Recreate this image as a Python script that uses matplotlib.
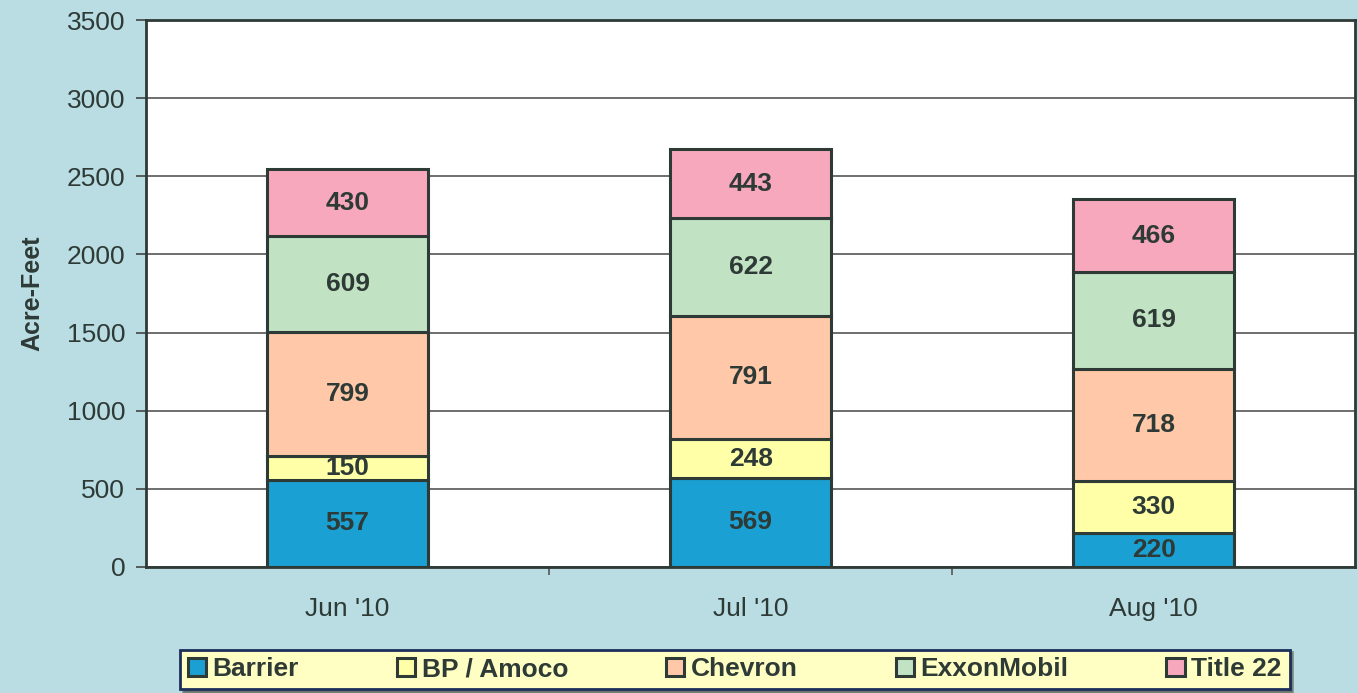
import matplotlib.pyplot as plt
import numpy as np

# data
months = ["Jun '10", "Jul '10", "Aug '10"]
series = ["Barrier", "BP / Amoco", "Chevron", "ExxonMobil", "Title 22"]
barrier = [557, 569, 220]
bp_amoco = [150, 248, 330]
chevron = [799, 791, 718]
exxon = [609, 622, 619]
title22 = [430, 443, 466]
colors = ["#1aa0d2", "#ffffa8", "#ffc8a8", "#c2e2c4", "#f8a8bc"]

plt.rcParams['font.family'] = ['Liberation Sans', 'DejaVu Sans']

fig = plt.figure(figsize=(13.58, 6.93), dpi=100)
fig.patch.set_facecolor("#b9dde3")
ax = fig.add_axes([0.1075, 0.182, 0.8905, 0.789])
ax.set_facecolor("white")

x = np.arange(len(months))
bottom = np.zeros(len(months))
handles = []
for name, vals, col in zip(series, [barrier, bp_amoco, chevron, exxon, title22], colors):
    bars = ax.bar(x, vals, 0.4, bottom=bottom, color=col, edgecolor="#2e3a36",
                  linewidth=2.2, label=name, zorder=3)
    handles.append(bars)
    for xi, b, v in zip(x, bottom, vals):
        ax.text(xi, b + v / 2, str(v), ha="center", va="center", fontsize=19,
                fontweight="bold", color="#2e3a36", zorder=4)
    bottom += np.array(vals)

ax.set_xlim(-0.5, 2.5)
ax.set_ylim(0, 3500)
ax.set_yticks(range(0, 3501, 500))
ax.yaxis.grid(True, color="#555555", linewidth=1.2, zorder=0)
ax.set_xticks(x)
ax.set_xticklabels(months)
ax.set_xticks([0.5, 1.5], minor=True)
ax.tick_params(axis="x", which="major", length=0, pad=22, labelsize=19, labelcolor="#2e3a36")
ax.tick_params(axis="x", which="minor", length=6, width=1.2, color="#555555")
ax.tick_params(axis="y", length=7, width=1.2, color="#444444", labelsize=19,
               labelcolor="#2e3a36", pad=8)
for s in ax.spines.values():
    s.set_color("#2e3a36")
    s.set_linewidth(2)
ax.set_ylabel("Acre-Feet", fontsize=18, fontweight="bold", color="#2e3a36", labelpad=16)

leg = fig.legend(handles, series, loc="center", bbox_to_anchor=(0.541, 0.034), ncol=5,
                 frameon=True, fancybox=False, shadow=True, handlelength=0.7,
                 handleheight=0.7, handletextpad=0.25, columnspacing=3.7,
                 borderpad=0.3, prop={"size": 19, "weight": "bold"})
leg.get_frame().set_facecolor("#ffffc4")
leg.get_frame().set_edgecolor("#1c2f5a")
leg.get_frame().set_linewidth(2)
for t in leg.get_texts():
    t.set_color("#2e3a36")

fig.savefig("out.png", dpi=100, facecolor=fig.get_facecolor())
